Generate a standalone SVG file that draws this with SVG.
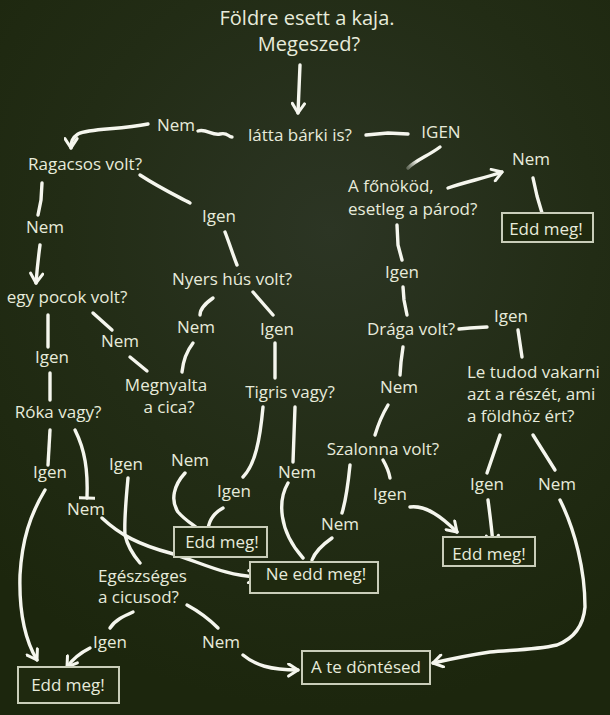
<svg xmlns="http://www.w3.org/2000/svg" width="610" height="715" viewBox="0 0 610 715">
<defs>
<radialGradient id="bg" cx="330" cy="230" r="480" gradientUnits="userSpaceOnUse">
<stop offset="0" stop-color="#2c3524"/>
<stop offset="0.55" stop-color="#222c15"/>
<stop offset="1" stop-color="#1c260d"/>
</radialGradient>
<linearGradient id="fade" x1="440" y1="147" x2="408" y2="168" gradientUnits="userSpaceOnUse">
<stop offset="0" stop-color="#f5f6ee"/>
<stop offset="0.7" stop-color="#f5f6ee"/>
<stop offset="1" stop-color="#f5f6ee" stop-opacity="0.3"/>
</linearGradient>
<marker id="arr" viewBox="0 0 16 16" refX="13" refY="8" markerWidth="15" markerHeight="15" markerUnits="userSpaceOnUse" orient="auto">
<path d="M3,1.5 L13,8 L3,14.5" fill="none" stroke="#f5f6ee" stroke-width="3.2" stroke-linecap="round" stroke-linejoin="round"/>
</marker>
<marker id="tee" viewBox="0 0 16 16" refX="8" refY="8" markerWidth="16" markerHeight="16" markerUnits="userSpaceOnUse" orient="auto">
<path d="M8,0.5 L8,15.5" fill="none" stroke="#f5f6ee" stroke-width="3.2" stroke-linecap="round"/>
</marker>
</defs>
<style>
.t{font-family:"Open Sans","Noto Sans",sans-serif;font-size:17px;fill:#e7ebdb;text-anchor:middle}
.s{text-anchor:start}
.h{font-size:20px}
.b{fill:#1f290f;stroke:#c9cdb9;stroke-width:2}
.c path{fill:none;stroke:#f5f6ee;stroke-width:3.4;stroke-linecap:round;stroke-linejoin:round}
.a{marker-end:url(#arr)}
</style>
<rect width="610" height="715" fill="url(#bg)"/>
<g class="c" id="connectors">
<path class="a" d="M300,65 Q299,90 298,113"/>
<path d="M198,131 C206,128 212,136 220,134 S228,137 232,137"/>
<path d="M366,135 L388,133 L408,134"/>
<path class="a" d="M148,124 C120,130 90,128 78,134 C72,138 71,142 71,148"/>
<path d="M440,147 C428,156 416,160 408,168" style="stroke:url(#fade)"/>
<path class="a" d="M448,188 C465,182 485,178 502,172"/>
<path d="M533,178 L537,196 L542,213"/>
<path d="M140,175 C160,188 175,195 190,203"/>
<path d="M225,232 C230,245 233,255 237,265"/>
<path d="M42,183 L41,200 L38,215"/>
<path class="a" d="M40,245 C38,260 37,270 36,283"/>
<path d="M48,315 L48,347"/>
<path d="M93,313 L112,330"/>
<path d="M130,357 L147,371"/>
<path d="M213,298 C206,303 200,308 200,315"/>
<path d="M253,292 L273,315"/>
<path d="M193,343 C186,352 183,362 182,372"/>
<path d="M275,343 L275,378"/>
<path d="M50,373 L50,400"/>
<path d="M50,430 L48,465"/>
<path d="M75,430 C85,450 88,470 87,498" marker-end="url(#tee)"/>
<path class="a" d="M45,490 C30,515 22,540 20,575 C19,610 25,640 37,660"/>
<path class="a" d="M102,518 C120,535 140,545 170,553 C200,562 225,576 258,577"/>
<path d="M128,478 C126,500 124,520 125,535 C128,548 134,556 140,563"/>
<path d="M185,473 C174,485 170,500 178,512 C185,520 192,524 197,528"/>
<path d="M223,508 C214,513 208,520 208,532"/>
<path d="M263,407 C260,440 255,465 243,477"/>
<path d="M295,407 L293,462"/>
<path d="M288,483 C278,500 278,530 303,558"/>
<path d="M332,538 C322,545 315,552 312,560"/>
<path d="M350,465 C348,485 346,500 342,513"/>
<path d="M397,225 L398,245 L402,260"/>
<path d="M403,287 L404,300 L407,315"/>
<path d="M459,329 L470,328 L487,327"/>
<path d="M518,330 L522,357"/>
<path d="M403,347 L401,362 L400,375"/>
<path d="M388,405 C382,415 378,425 375,435"/>
<path d="M383,460 C387,467 389,472 390,478"/>
<path class="a" d="M410,507 C425,505 440,515 457,532"/>
<path d="M500,435 L487,473"/>
<path d="M533,435 L555,470"/>
<path class="a" d="M488,500 C490,515 492,530 493,545"/>
<path class="a" d="M560,500 C575,530 585,570 585,607 C583,630 570,640 557,645 C535,650 510,650 490,652 C470,655 455,658 433,663"/>
<path d="M133,612 C124,616 115,620 110,628"/>
<path d="M187,605 C200,612 210,620 218,628"/>
<path class="a" d="M90,648 C80,653 72,660 67,667"/>
<path class="a" d="M243,655 C255,665 270,670 298,670"/>
</g>
<g id="n_title"><text class="t h" x="307" y="25">Földre esett a kaja.</text><text class="t h" x="309" y="51">Megeszed?</text></g>
<g id="n_latta"><text class="t" x="300" y="141">látta bárki is?</text></g>
<g id="l_nem1"><text class="t" x="176" y="131">Nem</text></g>
<g id="l_igen1"><text class="t" x="441" y="138">IGEN</text></g>
<g id="n_ragacsos"><text class="t" x="85" y="170">Ragacsos volt?</text></g>
<g id="l_nem2"><text class="t" x="45" y="233">Nem</text></g>
<g id="l_igen2"><text class="t" x="219" y="222">Igen</text></g>
<g id="n_nyers"><text class="t" x="232" y="285">Nyers hús volt?</text></g>
<g id="n_pocok"><text class="t" x="67" y="303">egy pocok volt?</text></g>
<g id="l_igen3"><text class="t" x="52" y="363">Igen</text></g>
<g id="l_nem3"><text class="t" x="120" y="347">Nem</text></g>
<g id="l_nem4"><text class="t" x="196" y="333">Nem</text></g>
<g id="l_igen4"><text class="t" x="277" y="335">Igen</text></g>
<g id="n_megnyalta"><text class="t" x="166" y="391">Megnyalta</text><text class="t" x="169" y="413">a cica?</text></g>
<g id="n_tigris"><text class="t" x="290" y="398">Tigris vagy?</text></g>
<g id="n_roka"><text class="t" x="58" y="418">Róka vagy?</text></g>
<g id="l_igen5"><text class="t" x="50" y="478">Igen</text></g>
<g id="l_nem5"><text class="t" x="86" y="515">Nem</text></g>
<g id="l_igen6"><text class="t" x="126" y="470">Igen</text></g>
<g id="l_nem6"><text class="t" x="190" y="466">Nem</text></g>
<g id="l_igen7"><text class="t" x="234" y="497">Igen</text></g>
<g id="l_nem7"><text class="t" x="297" y="478">Nem</text></g>
<g id="box_edd1"><rect class="b" x="174" y="527" width="93" height="30"/><text class="t" x="222" y="548">Edd meg!</text></g>
<g id="box_ne"><rect class="b" x="250" y="562" width="128" height="31"/><text class="t" x="316" y="580">Ne edd meg!</text></g>
<g id="n_fonokod"><text class="t s" x="348" y="192">A főnököd,</text><text class="t s" x="348" y="215">esetleg a párod?</text></g>
<g id="l_nem8"><text class="t" x="531" y="165">Nem</text></g>
<g id="box_edd2"><rect class="b" x="502" y="213" width="91" height="29"/><text class="t" x="546" y="235">Edd meg!</text></g>
<g id="l_igen8"><text class="t" x="402" y="278">Igen</text></g>
<g id="n_draga"><text class="t" x="411" y="335">Drága volt?</text></g>
<g id="l_igen9"><text class="t" x="511" y="322">Igen</text></g>
<g id="n_letudod"><text class="t s" x="467" y="378">Le tudod vakarni</text><text class="t s" x="467" y="400">azt a részét, ami</text><text class="t s" x="467" y="422">a földhöz ért?</text></g>
<g id="l_nem9"><text class="t" x="399" y="393">Nem</text></g>
<g id="n_szalonna"><text class="t" x="383" y="455">Szalonna volt?</text></g>
<g id="l_igen10"><text class="t" x="390" y="500">Igen</text></g>
<g id="l_nem10"><text class="t" x="340" y="530">Nem</text></g>
<g id="l_igen11"><text class="t" x="487" y="490">Igen</text></g>
<g id="l_nem11"><text class="t" x="557" y="490">Nem</text></g>
<g id="box_edd3"><rect class="b" x="443" y="537" width="92" height="29"/><text class="t" x="489" y="560">Edd meg!</text></g>
<g id="n_egeszseges"><text class="t s" x="98" y="582">Egészséges</text><text class="t s" x="98" y="603">a cicusod?</text></g>
<g id="l_igen12"><text class="t" x="110" y="648">Igen</text></g>
<g id="l_nem12"><text class="t" x="221" y="648">Nem</text></g>
<g id="box_edd4"><rect class="b" x="18" y="667" width="101" height="36"/><text class="t" x="68" y="691">Edd meg!</text></g>
<g id="box_dontes"><rect class="b" x="302" y="651" width="128" height="33"/><text class="t" x="366" y="673">A te döntésed</text></g>
</svg>
